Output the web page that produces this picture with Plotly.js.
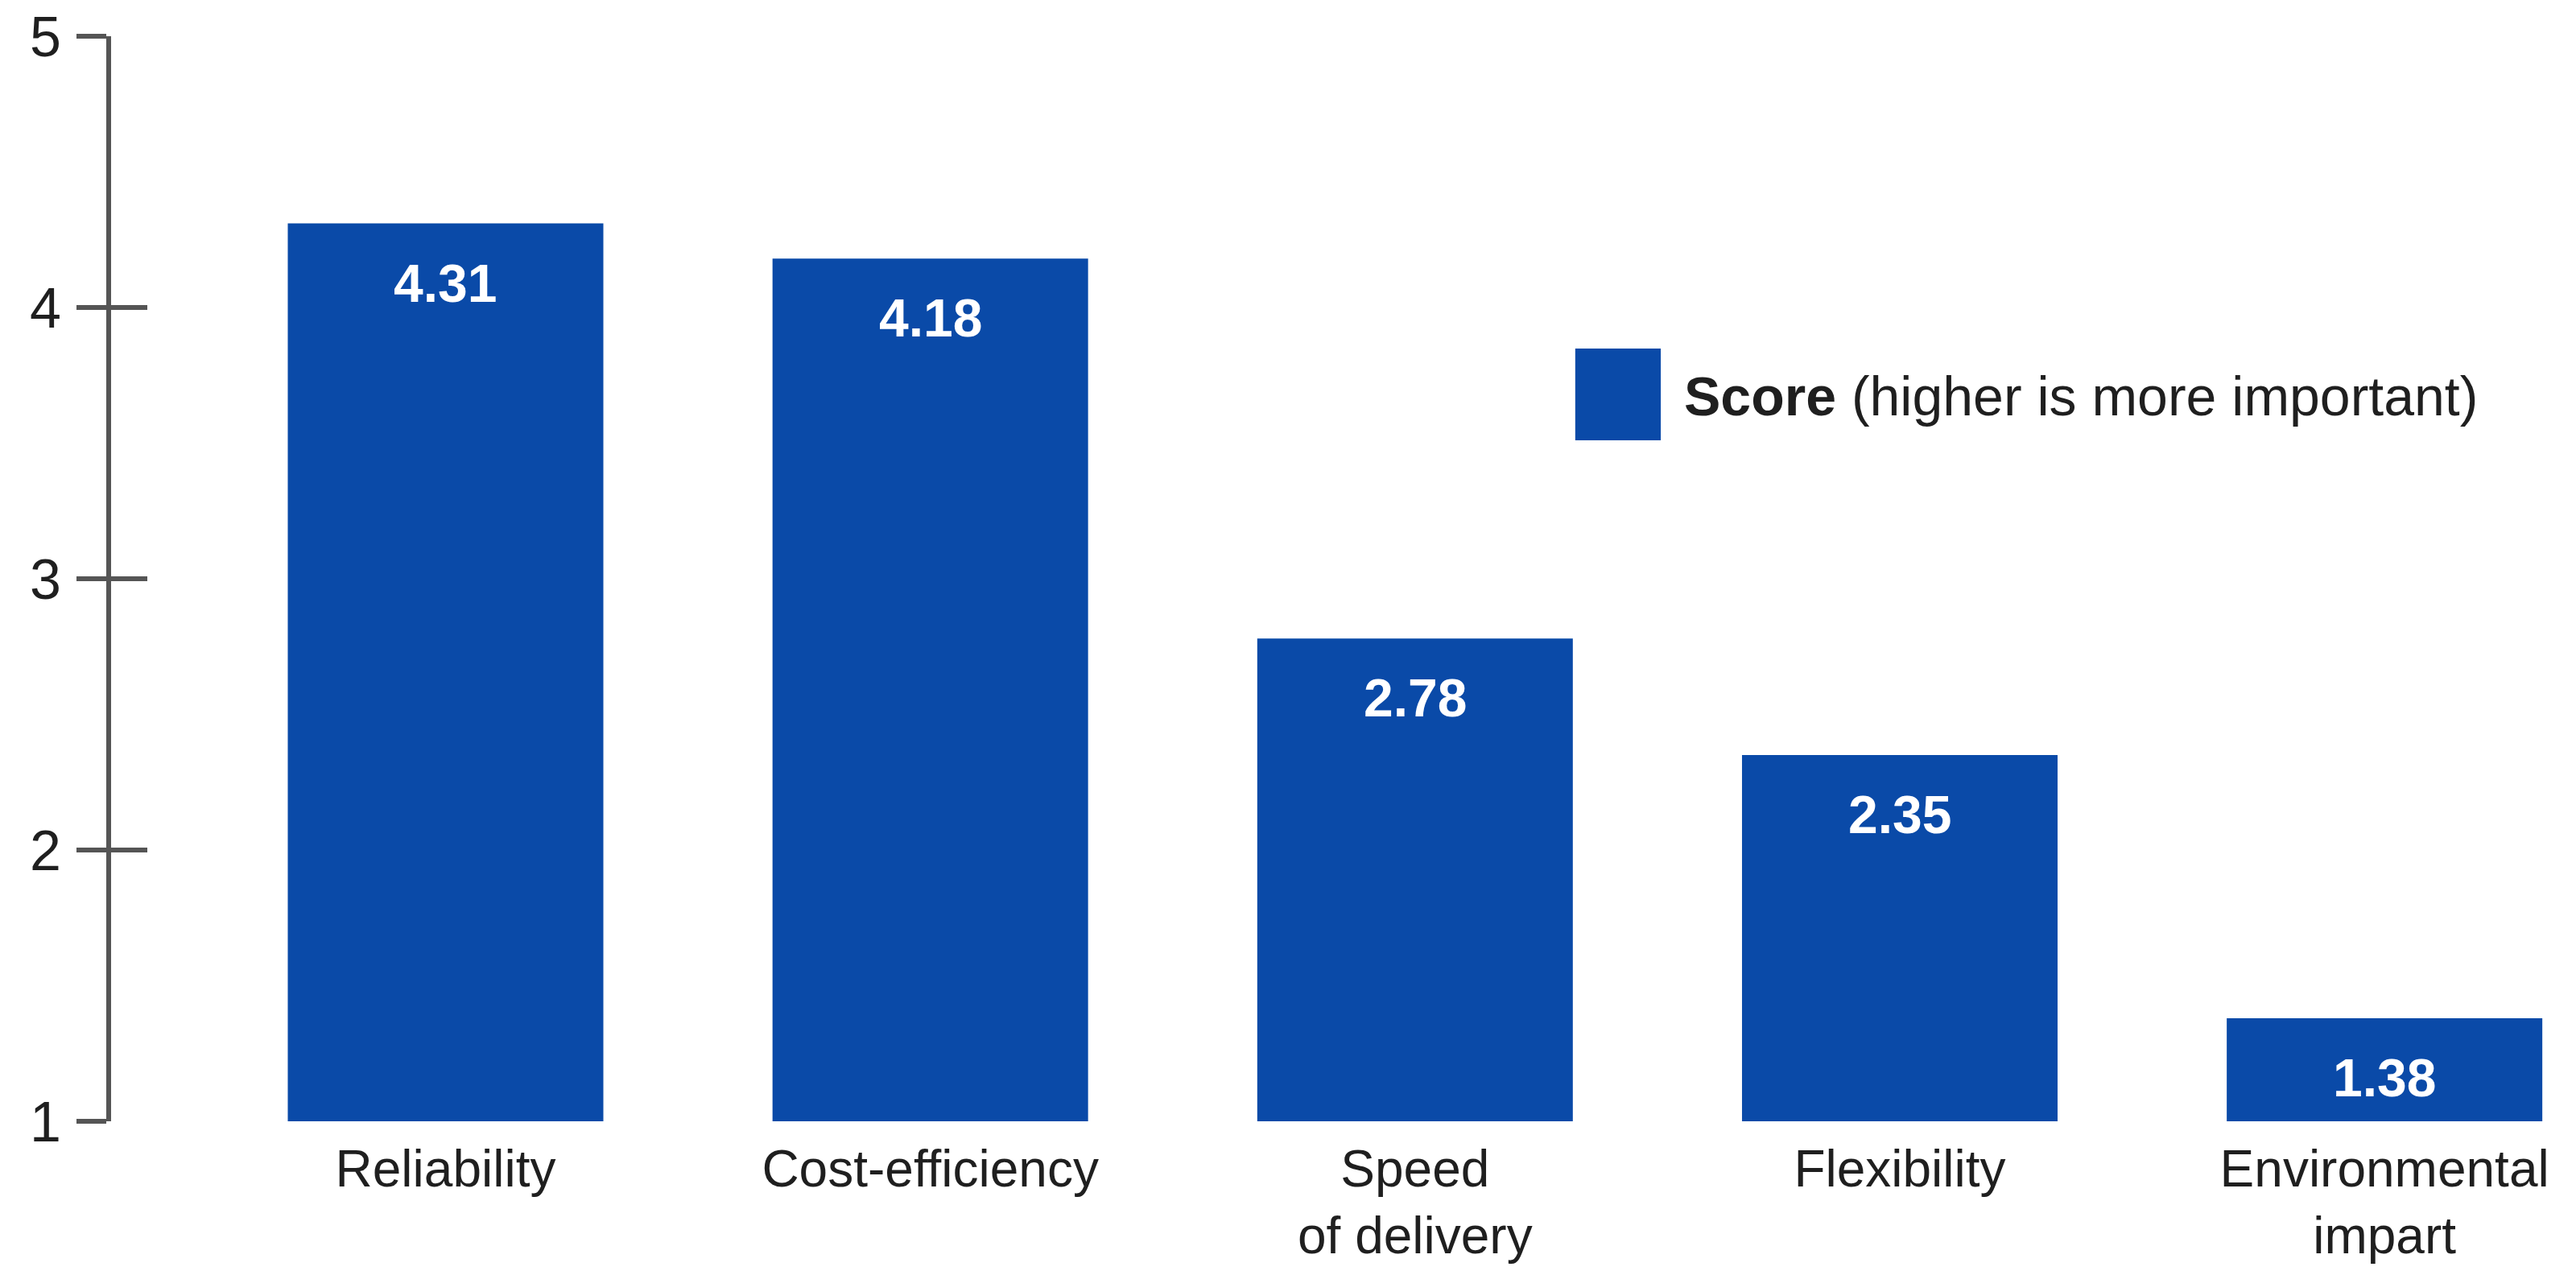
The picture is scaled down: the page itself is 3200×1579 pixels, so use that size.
<!DOCTYPE html>
<html>
<head>
<meta charset="utf-8">
<script src="https://cdn.plot.ly/plotly-3.0.1.min.js"></script>
<style>
  html, body { margin: 0; padding: 0; background: #ffffff; }
  #chart { width: 3200px; height: 1579px; }
</style>
</head>
<body>
<div id="chart"></div>
<script>
// ---- data ----
const categories = ["Reliability", "Cost-efficiency", "Speed<br>of delivery", "Flexibility", "Environmental<br>impart"];
const scores = [4.31, 4.18, 2.78, 2.35, 1.38];
const yTickValues = [1, 2, 3, 4, 5];
const yTickLabels = ["1", "2", "3", "4", "5"];
const seriesName = "Score";
const seriesNote = "(higher is more important)";

// ---- style ----
const BLUE = "#0A4AA8";
const TEXT = "#1f1f1f";
const AXIS = "#555555";
const FONT = "Liberation Sans, Arial, sans-serif";

const barTrace = {
  type: "bar",
  x: categories,
  y: scores.map(v => v - 1),
  base: 1,
  marker: { color: BLUE, line: { width: 0 } },
  width: 0.651,
  name: seriesName,
  showlegend: false,
  hoverinfo: "x+text",
  text: scores.map(v => v.toFixed(2)),
  textposition: "none"
};

// invisible helper trace so the overlaid (inner-tick) axis is drawn
const tickHelper = {
  type: "scatter",
  mode: "none",
  x: categories,
  y: scores,
  yaxis: "y2",
  showlegend: false,
  hoverinfo: "skip"
};

const valueAnnotations = categories.map((c, i) => ({
  x: c, y: scores[i], xref: "x", yref: "y",
  text: scores[i].toFixed(2),
  showarrow: false,
  xanchor: "center", yanchor: "middle",
  yshift: -74,
  font: { family: FONT, size: 66, color: "#ffffff", weight: 700 }
}));

const legendAnnotation = {
  xref: "paper", yref: "paper",
  x: 0.6375, y: 0.6684,
  xanchor: "left", yanchor: "middle",
  showarrow: false,
  text: "<b>" + seriesName + "</b> " + seriesNote,
  font: { family: FONT, size: 68, color: TEXT }
};

const layout = {
  width: 3200,
  height: 1579,
  margin: { l: 138, r: 0, t: 45, b: 186, pad: 0 },
  paper_bgcolor: "#ffffff",
  plot_bgcolor: "#ffffff",
  font: { family: FONT, color: TEXT },
  showlegend: false,
  bargap: 0.349,
  xaxis: {
    type: "category",
    range: [-0.69, 4.395],
    showline: false,
    showgrid: false,
    zeroline: false,
    ticks: "",
    tickfont: { family: FONT, size: 64, color: TEXT },
    ticklabelstandoff: 16,
    fixedrange: true
  },
  yaxis: {
    range: [1, 5],
    tickvals: yTickValues,
    ticktext: yTickLabels,
    showline: true,
    linewidth: 6,
    linecolor: AXIS,
    showgrid: false,
    zeroline: false,
    ticks: "outside",
    ticklen: 37,
    tickwidth: 6,
    tickcolor: AXIS,
    tickfont: { family: FONT, size: 70, color: TEXT },
    ticklabelstandoff: 5,
    fixedrange: true
  },
  yaxis2: {
    overlaying: "y",
    anchor: "x",
    side: "left",
    range: [1, 5],
    tickvals: yTickValues,
    showticklabels: false,
    showline: false,
    showgrid: false,
    zeroline: false,
    ticks: "inside",
    ticklen: 45,
    tickwidth: 6,
    tickcolor: AXIS,
    fixedrange: true
  },
  shapes: [{
    type: "rect", xref: "paper", yref: "paper",
    x0: 0.594, x1: 0.6287, y0: 0.6276, y1: 0.7122,
    fillcolor: BLUE, line: { width: 0 }
  }],
  annotations: valueAnnotations.concat([legendAnnotation])
};

Plotly.newPlot("chart", [barTrace, tickHelper], layout, { displayModeBar: false, staticPlot: true });
</script>
</body>
</html>
